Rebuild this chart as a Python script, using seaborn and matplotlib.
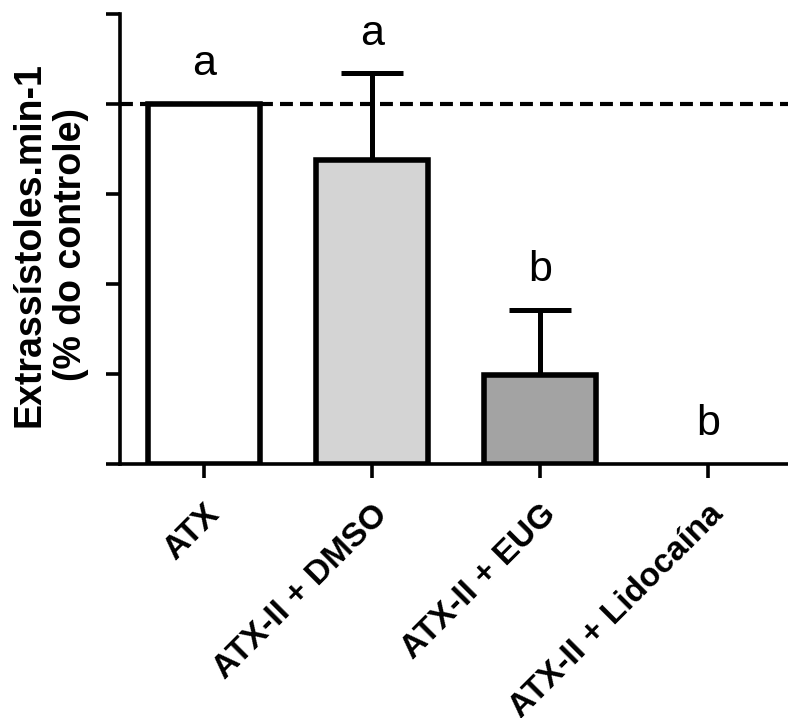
import matplotlib
matplotlib.use("Agg")
import matplotlib.pyplot as plt
import seaborn as sns
import numpy as np
import pandas as pd

# ---- data ----
categories = ["ATX", "ATX-II + DMSO", "ATX-II + EUG", "ATX-II + Lidocaína"]
means = [100.0, 84.4, 24.7, 0.0]
errors = [0.0, 24.1, 18.1, 0.0]
letters = ["a", "a", "b", "b"]
bar_colors = ["#ffffff", "#d4d4d4", "#a3a3a3", "#ffffff"]
yticks = [0, 25, 50, 75, 100, 125]
ylabel = "Extrassístoles.min-1\n(% do controle)"
reference_level = 100

sns.set_style("ticks")
plt.rcParams["font.family"] = ["Liberation Sans", "DejaVu Sans"]
plt.rcParams["text.color"] = "black"
plt.rcParams["axes.labelcolor"] = "black"
plt.rcParams["xtick.color"] = "black"
plt.rcParams["ytick.color"] = "black"

W, H = 788, 718
fig = plt.figure(figsize=(W / 100, H / 100), dpi=100)
ax_left, ax_right, ax_top, ax_bottom = 120, 788, 14, 464
ax = fig.add_axes([ax_left / W, (H - ax_bottom) / H,
                   (ax_right - ax_left) / W, (ax_bottom - ax_top) / H])

df = pd.DataFrame({"group": categories, "value": means})
sns.barplot(data=df, x="group", y="value", hue="group", palette=bar_colors,
            order=categories, hue_order=categories, width=0.67,
            edgecolor="black", linewidth=4, errorbar=None, legend=False,
            ax=ax, zorder=3)
for p in ax.patches:
    if p.get_height() == 0:
        p.set_linewidth(0)

x = np.arange(len(categories))
err = np.array(errors)
mask = err > 0
ax.errorbar(x[mask], np.array(means)[mask],
            yerr=[np.zeros(mask.sum()), err[mask]],
            fmt="none", ecolor="black", elinewidth=3.6, capsize=22,
            capthick=3.6, zorder=2)

ax.set_xlim(-0.5, 3.476)
ax.set_ylim(0, 125)
ax.hlines(reference_level, -0.5, 3.476, colors="black", linewidth=3,
          linestyles=(0, (3.1, 1.7)), zorder=1)

for xi, m, e, lab in zip(x, means, errors, letters):
    ax.text(xi, m + e + 8, lab, ha="center", va="baseline", fontsize=31,
            fontweight="normal", color="black")

ax.set_yticks(yticks)
ax.set_yticklabels([])
ax.set_xlabel("")
ax.set_ylabel(ylabel, fontsize=27, fontweight="bold", linespacing=1.2,
              color="black")
ax.yaxis.set_label_coords(-0.046, 0.487)

ax.set_xticks(x)
ax.set_xticklabels(categories, rotation=45, ha="right",
                   rotation_mode="anchor", fontsize=24, fontweight="bold",
                   color="black")
ax.tick_params(axis="both", direction="out", length=10, width=2.6,
               color="black")
ax.tick_params(axis="x", pad=15)

for s in ["top", "right"]:
    ax.spines[s].set_visible(False)
for s in ["left", "bottom"]:
    ax.spines[s].set_linewidth(2.6)
    ax.spines[s].set_color("black")
ax.spines["bottom"].set_zorder(4)
ax.set_facecolor("white")
fig.patch.set_facecolor("white")

fig.savefig("out.png", dpi=100)
